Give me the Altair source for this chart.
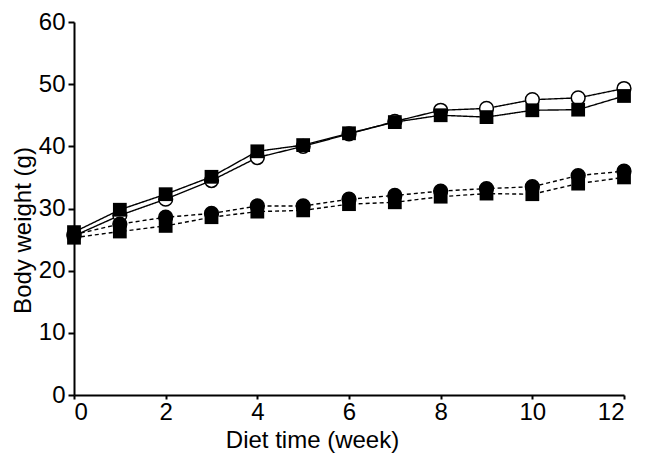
import altair as alt
import pandas as pd

weeks = list(range(13))
hfd_circle = [25.6, 28.9, 31.5, 34.5, 38.2, 40.0, 42.0, 44.0, 45.8, 46.1, 47.5, 47.8, 49.3]
hfd_square = [26.2, 29.8, 32.3, 35.1, 39.2, 40.2, 42.1, 43.9, 45.0, 44.7, 45.8, 45.9, 48.1]
chow_circle = [25.8, 27.5, 28.6, 29.2, 30.4, 30.4, 31.5, 32.1, 32.8, 33.2, 33.5, 35.3, 36.0]
chow_square = [25.3, 26.3, 27.2, 28.6, 29.5, 29.7, 30.7, 31.0, 31.9, 32.4, 32.3, 34.0, 35.0]

rows = []
for name, vals, shape, fill, dash in [
    ("HFD circle", hfd_circle, "circle", "white", "solid"),
    ("HFD square", hfd_square, "square", "black", "solid"),
    ("Chow circle", chow_circle, "circle", "black", "dashed"),
    ("Chow square", chow_square, "square", "black", "dashed"),
]:
    for w, v in zip(weeks, vals):
        rows.append({"series": name, "week": w, "weight": v, "shape": shape, "fill": fill, "dash": dash})
df = pd.DataFrame(rows)

FONT = "Liberation Sans"

x = alt.X("week:Q", scale=alt.Scale(domain=[0, 12], nice=False),
          axis=alt.Axis(values=[0, 2, 4, 6, 8, 10, 12], title="Diet time (week)",
                        grid=False, tickSize=4, labelPadding=1, labelFontSize=24,
                        titleFontSize=24, titleFontWeight="normal",
                        titleX=238, titleY=52, titleBaseline="alphabetic", titleAlign="center"))
y = alt.Y("weight:Q", scale=alt.Scale(domain=[0, 60], nice=False),
          axis=alt.Axis(values=[0, 10, 20, 30, 40, 50, 60], title="Body weight (g)",
                        grid=False, tickSize=6, labelPadding=3, labelFontSize=24,
                        titleFontSize=24, titleFontWeight="normal",
                        titleX=-44, titleY=208, titleAngle=-90, titleBaseline="alphabetic", titleAlign="center"))

base = alt.Chart(df)

lines = base.mark_line(color="black", strokeWidth=1.4).encode(
    x=x, y=y, detail="series:N",
    strokeDash=alt.StrokeDash("dash:N", scale=alt.Scale(domain=["solid", "dashed"], range=[[1, 0], [4, 3]]), legend=None),
)

circles = base.transform_filter(alt.datum.shape == "circle").mark_point(
    shape="circle", size=190, stroke="black", strokeWidth=1.5, opacity=1, filled=False
).encode(
    x=x, y=y,
    fill=alt.Fill("fill:N", scale=None),
)

squares = base.transform_filter(alt.datum.shape == "square").mark_point(
    shape="square", size=190, color="black", filled=True, opacity=1
).encode(x=x, y=y)

chart = alt.layer(lines, circles, squares).properties(
    width=550, height=373,
    padding={"left": 66, "top": 14, "right": 18, "bottom": 60},
    autosize=alt.AutoSizeParams(type="none"),
).configure_axis(
    domainColor="black", domainWidth=2, tickColor="black", tickWidth=2,
    labelColor="black", titleColor="black", labelFont=FONT, titleFont=FONT,
).configure_view(stroke=None)

chart.save("out.html", embed_options={"renderer": "svg", "actions": False})
